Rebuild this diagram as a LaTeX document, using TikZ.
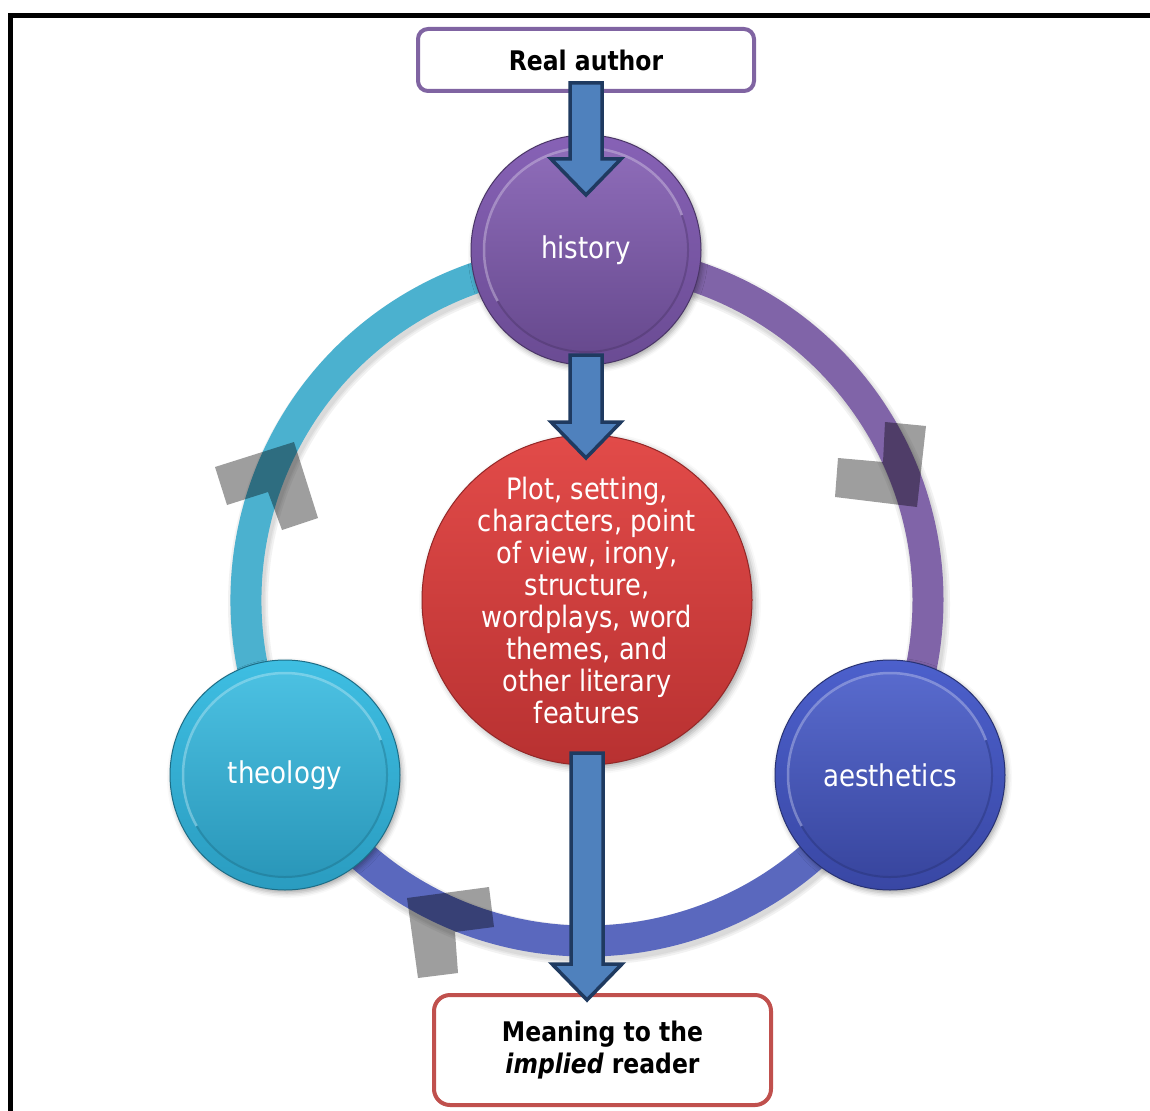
\documentclass[tikz,border=0pt]{standalone}
\usepackage{fontspec}
\setmainfont{DejaVu Sans}[FakeStretch=0.87]
\usetikzlibrary{calc,shadows.blur}

\definecolor{boxpurple}{HTML}{8064A2}
\definecolor{boxred}{HTML}{C0504D}
\definecolor{arrowfill}{HTML}{4F81BD}
\definecolor{arrowline}{HTML}{1F3A60}
\definecolor{ringcyan}{HTML}{4BB1CF}
\definecolor{ringpurple}{HTML}{8064A8}
\definecolor{ringblue}{HTML}{5A68BE}
\definecolor{histtop}{HTML}{8762B6}
\definecolor{histbot}{HTML}{6A4B93}
\definecolor{theotop}{HTML}{3EBEE2}
\definecolor{theobot}{HTML}{2A9CC0}
\definecolor{aesttop}{HTML}{4C60CC}
\definecolor{aestbot}{HTML}{3947A4}
\definecolor{coretop}{HTML}{E24B49}
\definecolor{corebot}{HTML}{B83131}

% vertical block arrow from the first point down to the tip at the second
\newcommand\blockarrow[2]{%
  \draw[blockarrow] let \p1=#1, \p2=#2 in
    (\x1-16pt,\y1) -- (\x1+16pt,\y1) -- (\x1+16pt,\y2+36pt) -- (\x1+35pt,\y2+36pt)
    -- (\x1,\y2) -- (\x1-35pt,\y2+36pt) -- (\x1-16pt,\y2+36pt) -- cycle;}

\begin{document}
\begin{tikzpicture}[x=1pt,y=-1pt,
  labelbox/.style={draw=#1, line width=4pt, rounded corners=10pt, fill=white,
    inner sep=0pt, outer sep=0pt, align=center,
    font=\fontsize{27}{32}\selectfont\bfseries},
  orb/.style 2 args={circle, minimum size=230pt, inner sep=0pt, outer sep=0pt,
    top color=#1, bottom color=#2, draw=#2!70!black, line width=1pt,
    text=white, font=\fontsize{30}{32}\selectfont,
    blur shadow={shadow xshift=2pt, shadow yshift=-3pt, shadow blur radius=5pt, shadow opacity=35},
    path picture={
      \shade[top color=#1!92!white, bottom color=#2!95!black]
        (path picture bounding box.center) circle[radius=101];
      \draw[white, opacity=.3, line width=2.5pt]
        (path picture bounding box.center) ++(150:102) arc[start angle=150, end angle=340, radius=102];
      \draw[black, opacity=.15, line width=2pt]
        (path picture bounding box.center) ++(-20:102) arc[start angle=-20, end angle=150, radius=102];
    }},
  core/.style={circle, minimum size=330pt, inner sep=0pt, outer sep=0pt,
    top color=coretop, bottom color=corebot, draw=corebot!80!black, line width=1pt,
    text=white, align=center, font=\fontsize{29.5}{32}\selectfont,
    blur shadow={shadow xshift=3pt, shadow yshift=-3pt, shadow blur radius=6pt, shadow opacity=35}},
  ringarc/.style={line width=31pt, draw=#1},
  ringshade/.style={line width=#1, draw=black, opacity=.05},
  graymark/.style={fill=black, fill opacity=.38},
  blockarrow/.style={fill=arrowfill, draw=arrowline, line width=3.5pt, line join=miter},
  frameline/.style={line width=5pt, draw=black}
]
\useasboundingbox (0,0) rectangle (1150,1110);

% outer frame
\draw[frameline] (10,1115) -- (10,16) -- (1155,16);

% cycle ring
\coordinate (O) at (587,600);
\foreach \w in {40pt,36pt,33pt}
  \draw[ringshade=\w] ([shift={(2,4)}]O) circle[radius=341];
\draw[ringarc=ringcyan]   (O) ++(150:341) arc[start angle=150, end angle=270, radius=341];
\draw[ringarc=ringpurple] (O) ++(270:341) arc[start angle=270, end angle=390, radius=341];
\draw[ringarc=ringblue]   (O) ++(30:341)  arc[start angle=30,  end angle=150, radius=341];

% grey marks over the ring
\fill[graymark] (215,467) -- (294,442) -- (318,518) -- (282,530) -- (268,492) -- (227,505) -- cycle;
\fill[graymark] (885,422) -- (926,426) -- (917,507) -- (835,497) -- (838,458) -- (883,462) -- cycle;
\fill[graymark] (407,898) -- (489,887) -- (494,927) -- (455,932) -- (458,973) -- (418,978) -- cycle;

% the three circles and the core
\node[orb={histtop}{histbot}] (hist) at (586,250) {history};
\node[orb={theotop}{theobot}] (theo) at (285,775) {theology};
\node[orb={aesttop}{aestbot}] (aest) at (890,775) {aesthetics};
\node[core] (ctr) at (587,600) {Plot, setting,\\characters, point\\of view, irony,\\structure,\\wordplays, word\\themes, and\\other literary\\features};

% top and bottom boxes
\node[labelbox=boxpurple, minimum width=336pt, minimum height=62pt] (ra) at (586,60) {Real author};
\node[labelbox=boxred, minimum width=337pt, minimum height=110pt, rounded corners=16pt] (mean) at (602.5,1050)
  {Meaning to the\\{\itshape implied} reader};

% block arrows
\blockarrow{([yshift=8pt]ra.south)}{([yshift=-60pt]hist.north)}
\blockarrow{([yshift=10pt]hist.south)}{([yshift=-23pt]ctr.north)}
\blockarrow{([yshift=12pt]ctr.south)}{([yshift=-5pt]mean.north)}
\end{tikzpicture}
\end{document}
